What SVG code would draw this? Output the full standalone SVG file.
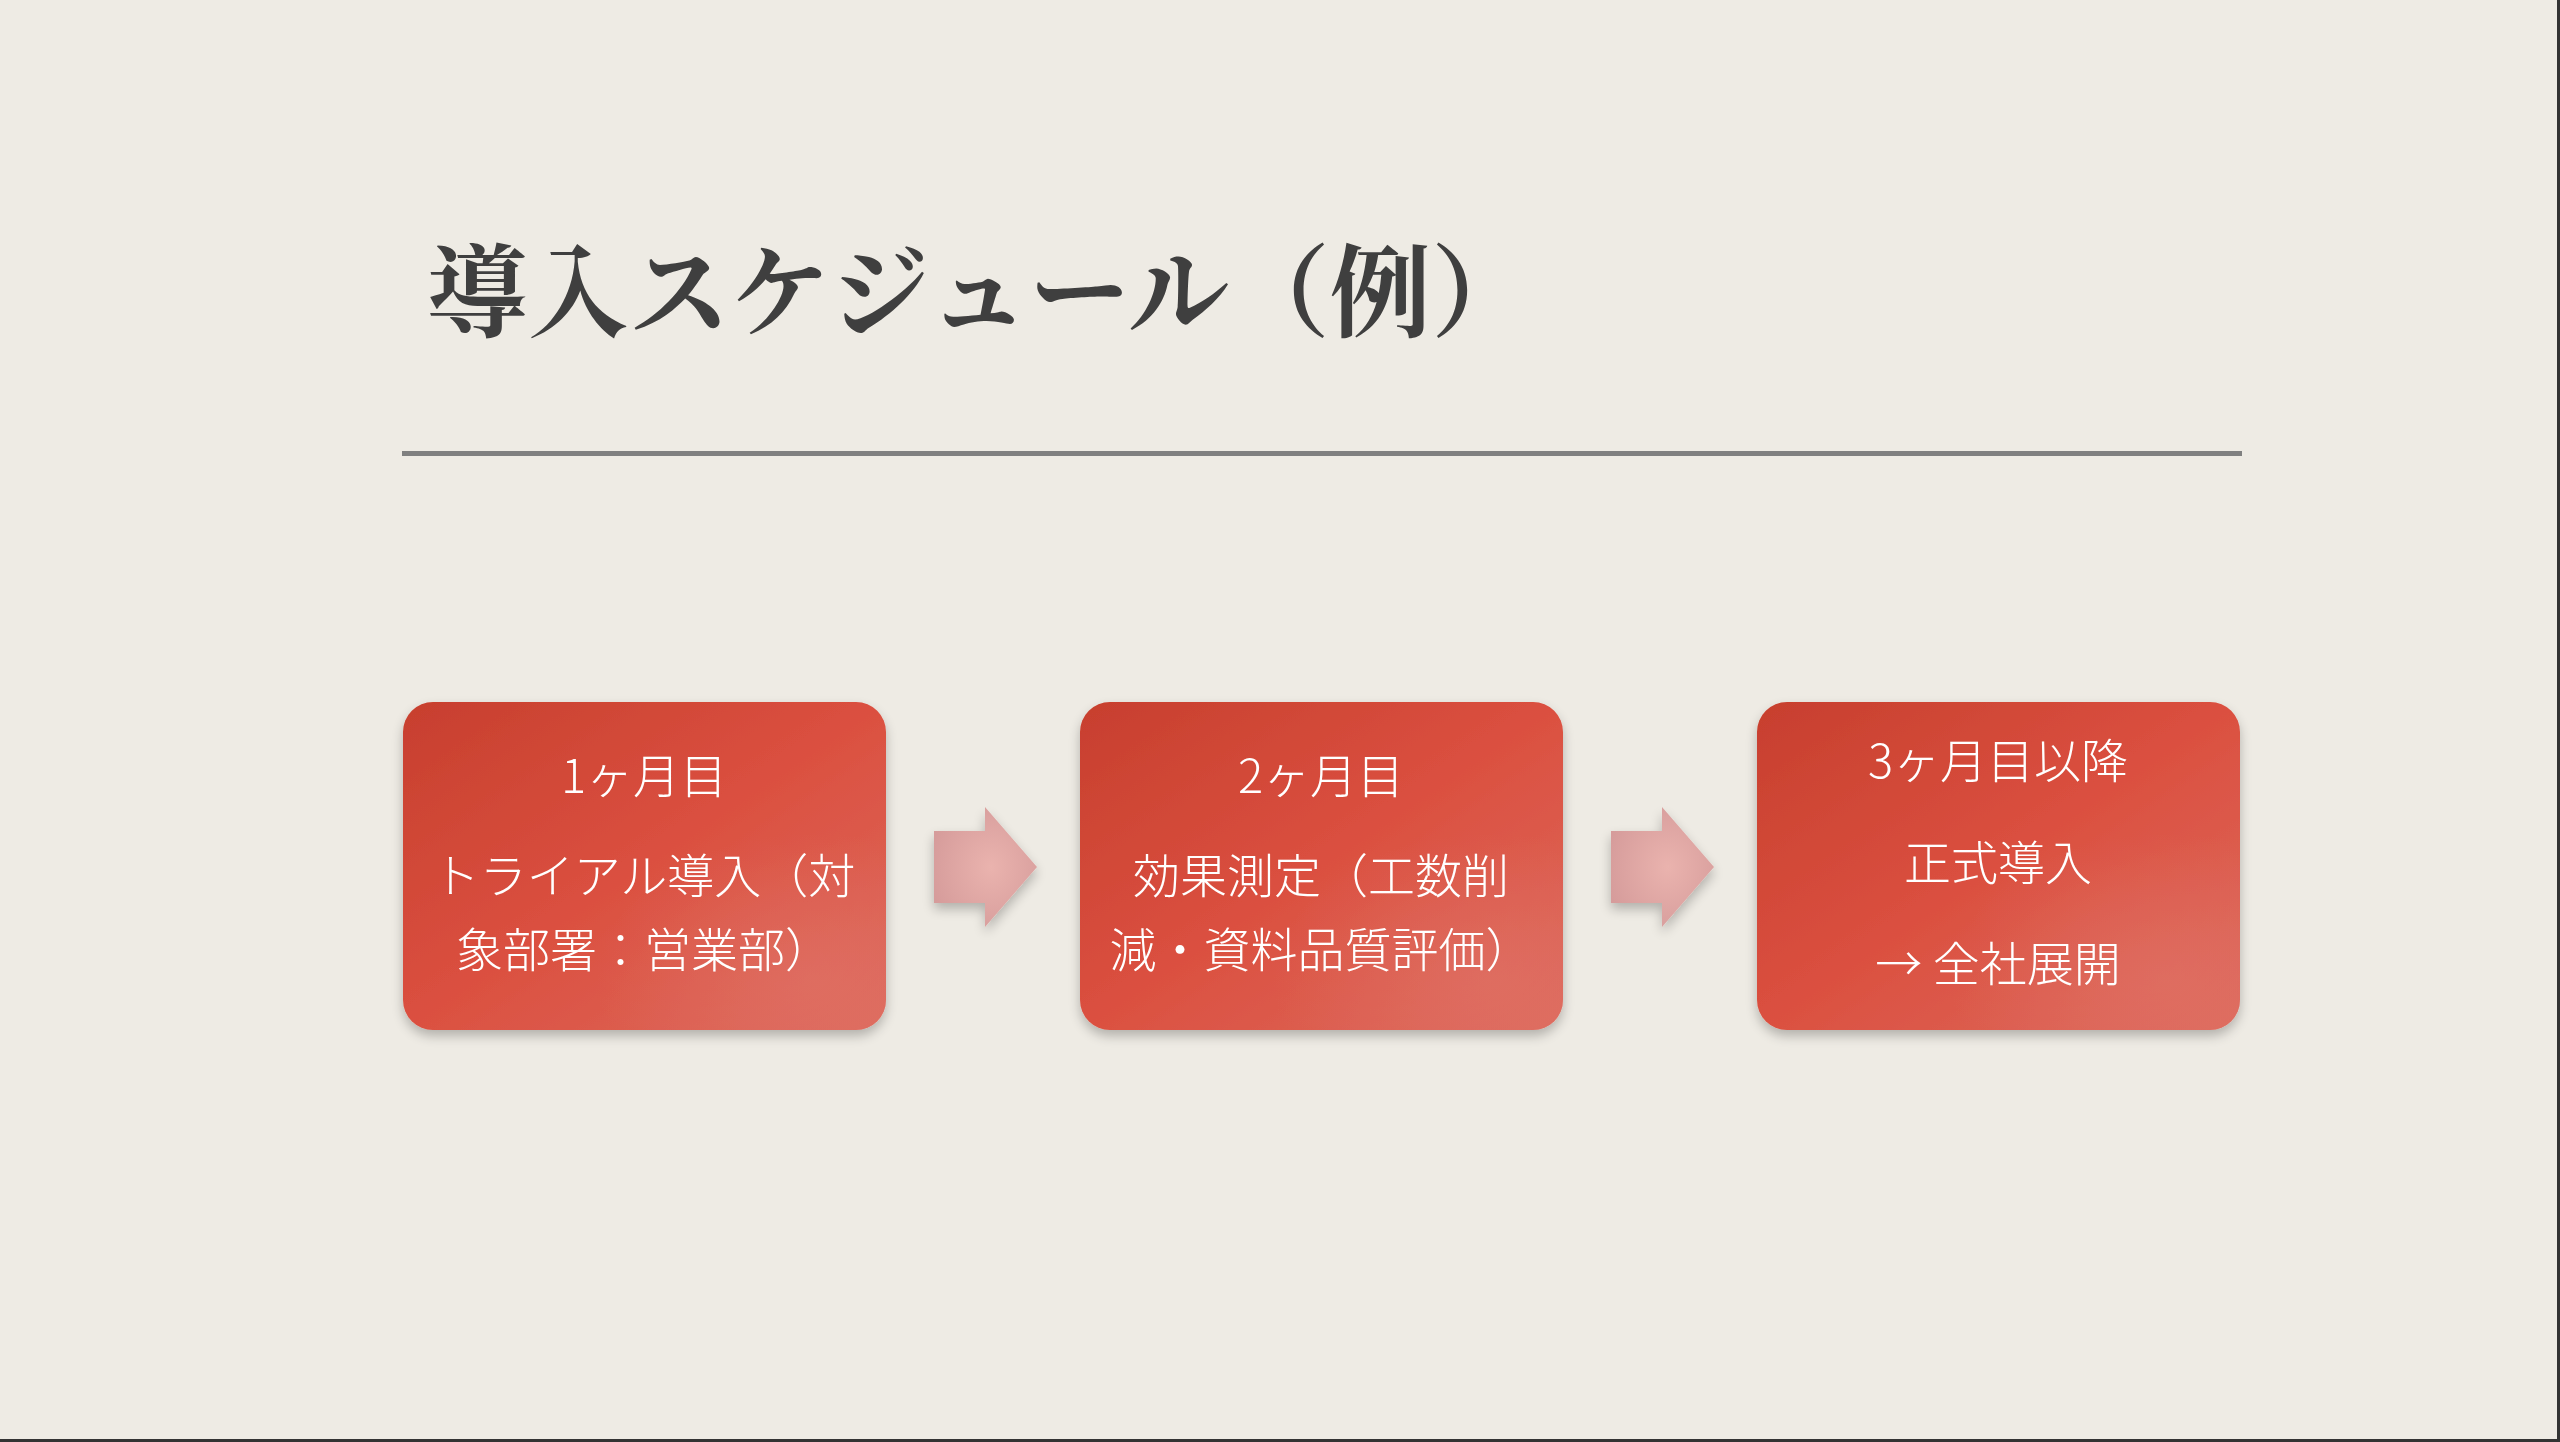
<svg xmlns="http://www.w3.org/2000/svg" width="2560" height="1442" viewBox="0 0 2560 1442">
  <defs>
    <linearGradient id="boxGrad" x1="0" y1="0" x2="1" y2="1">
      <stop offset="0" stop-color="#C73F2E"/>
      <stop offset="0.5" stop-color="#DB5040"/>
      <stop offset="1" stop-color="#DD6A5D"/>
    </linearGradient>
    <radialGradient id="boxHi" cx="0.85" cy="0.85" r="0.45">
      <stop offset="0" stop-color="#E07468" stop-opacity="0.6"/>
      <stop offset="1" stop-color="#E07468" stop-opacity="0"/>
    </radialGradient>
    <radialGradient id="arrowGrad" cx="0.55" cy="0.5" r="0.6">
      <stop offset="0" stop-color="#EAB3AE"/>
      <stop offset="1" stop-color="#D69C9B"/>
    </radialGradient>
    <filter id="shadow" x="-10%" y="-10%" width="120%" height="125%">
      <feGaussianBlur in="SourceAlpha" stdDeviation="6"/>
      <feOffset dx="0" dy="6" result="b"/>
      <feComponentTransfer><feFuncA type="linear" slope="0.25"/></feComponentTransfer>
      <feMerge><feMergeNode/><feMergeNode in="SourceGraphic"/></feMerge>
    </filter>
    <path id="arrowShape" d="M0,24 H51 V0 L103,60 L51,120 V96 H0 Z"/>
  </defs>
  <style>
    .title { font-family: "Liberation Serif", "Noto Serif CJK JP", "Noto Sans CJK JP", serif; font-size: 101px; font-weight: bold; fill: #3F3F3F; }
    .lbl { font-family: "Noto Sans CJK JP", "Noto Sans", sans-serif; font-size: 47px; font-weight: 300; fill: #FFFFFF; text-anchor: middle; }
    .box { fill: url(#boxGrad); }
    .boxhi { fill: url(#boxHi); }
    .arrow { fill: url(#arrowGrad); }
  </style>

  <rect x="0" y="0" width="2560" height="1442" fill="#EEEBE4"/>
  <rect x="2557" y="0" width="3" height="1442" fill="#333333"/>
  <rect x="0" y="1439" width="2560" height="3" fill="#333333"/>

  <g id="title">
    <text class="title" x="427" y="329">導入スケジュール（例）</text>
    <rect x="402" y="451" width="1840" height="5" fill="#808080"/>
  </g>

  <g id="node1" filter="url(#shadow)">
    <rect class="box" x="403" y="702" width="483" height="328" rx="30"/>
    <rect class="boxhi" x="403" y="702" width="483" height="328" rx="30"/>
    <text class="lbl" x="644" y="793">1ヶ月目</text>
    <text class="lbl" x="644" y="893">トライアル導入（対</text>
    <text class="lbl" x="644" y="967">象部署：営業部）</text>
  </g>

  <g id="node2" filter="url(#shadow)">
    <rect class="box" x="1080" y="702" width="483" height="328" rx="30"/>
    <rect class="boxhi" x="1080" y="702" width="483" height="328" rx="30"/>
    <text class="lbl" x="1321" y="793">2ヶ月目</text>
    <text class="lbl" x="1321" y="893">効果測定（工数削</text>
    <text class="lbl" x="1321" y="967">減・資料品質評価）</text>
  </g>

  <g id="node3" filter="url(#shadow)">
    <rect class="box" x="1757" y="702" width="483" height="328" rx="30"/>
    <rect class="boxhi" x="1757" y="702" width="483" height="328" rx="30"/>
    <text class="lbl" x="1998" y="778">3ヶ月目以降</text>
    <text class="lbl" x="1998" y="880">正式導入</text>
    <text class="lbl" x="1998" y="981">→ 全社展開</text>
  </g>

  <g id="connectors" filter="url(#shadow)">
    <use href="#arrowShape" class="arrow" transform="translate(934,807)"/>
    <use href="#arrowShape" class="arrow" transform="translate(1611,807)"/>
  </g>
</svg>
